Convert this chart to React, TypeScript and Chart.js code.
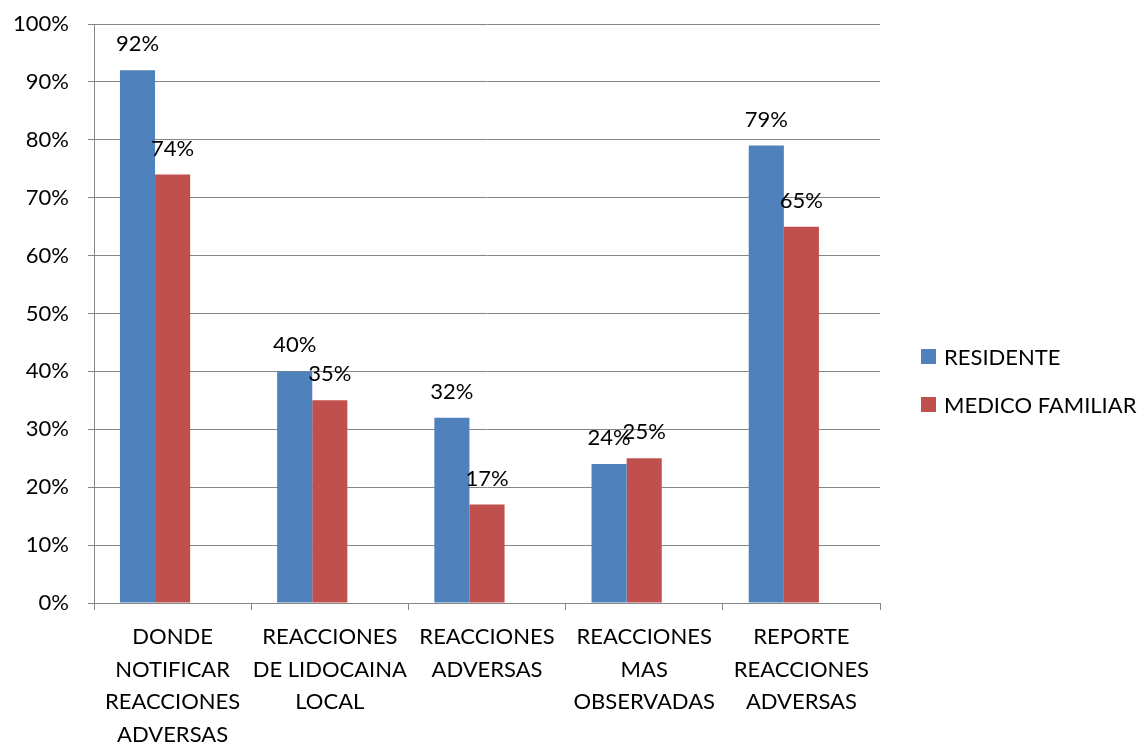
import React, { useEffect, useRef } from "react";
import { Chart, registerables } from "chart.js";

Chart.register(...registerables);

const categories: string[][] = [
  ["DONDE", "NOTIFICAR", "REACCIONES", "ADVERSAS"],
  ["REACCIONES", "DE LIDOCAINA", "LOCAL"],
  ["REACCIONES", "ADVERSAS"],
  ["REACCIONES", "MAS", "OBSERVADAS"],
  ["REPORTE", "REACCIONES", "ADVERSAS"],
];
const residente: number[] = [92, 40, 32, 24, 79];
const medicoFamiliar: number[] = [74, 35, 17, 25, 65];
// empty third series slot (as in the original spreadsheet chart)
const emptySeries: (number | null)[] = [null, null, null, null, null];
const seriesNames: string[] = ["RESIDENTE", "MEDICO FAMILIAR"];
const seriesColors: string[] = ["#4F81BD", "#C0504D"];

const FONT = "Lato, 'Open Sans', sans-serif";
const FS = 22;

const valueLabels = {
  id: "valueLabels",
  afterDatasetsDraw(chart: any) {
    const ctx = chart.ctx;
    ctx.save();
    ctx.font = `${FS}px ${FONT}`;
    ctx.fillStyle = "#000";
    ctx.textAlign = "center";
    ctx.textBaseline = "alphabetic";
    chart.data.datasets.forEach((ds: any, i: number) => {
      if (!ds.label) return;
      const meta = chart.getDatasetMeta(i);
      meta.data.forEach((bar: any, j: number) => {
        if (ds.data[j] == null) return;
        ctx.fillText(`${ds.data[j]}%`, bar.x, bar.y - 19);
      });
    });
    ctx.restore();
  },
};

const customLegend = {
  id: "customLegend",
  afterDraw(chart: any) {
    const ctx = chart.ctx;
    ctx.save();
    ctx.font = `${FS}px ${FONT}`;
    ctx.textBaseline = "middle";
    ctx.textAlign = "left";
    chart.data.datasets
      .filter((ds: any) => ds.label)
      .forEach((ds: any, i: number) => {
        const cy = 356.5 + i * 48;
        ctx.fillStyle = ds.backgroundColor;
        ctx.fillRect(921, cy - 7.5, 15, 15);
        ctx.fillStyle = "#000";
        ctx.fillText(ds.label, 944, cy + 1);
      });
    ctx.restore();
  },
};

export default function App() {
  const ref = useRef<HTMLCanvasElement>(null);
  useEffect(() => {
    if (!ref.current) return;
    const chart = new Chart(ref.current, {
      type: "bar",
      data: {
        labels: categories,
        datasets: [
          { label: seriesNames[0], data: residente, backgroundColor: seriesColors[0] },
          { label: seriesNames[1], data: medicoFamiliar, backgroundColor: seriesColors[1] },
          { label: "", data: emptySeries as any, backgroundColor: "#9BBB59" },
        ],
      },
      options: {
        animation: false,
        responsive: false,
        maintainAspectRatio: false,
        layout: { padding: { left: 0, top: 24, right: 267, bottom: 0 } },
        datasets: { bar: { categoryPercentage: 0.67, barPercentage: 1 } },
        plugins: { legend: { display: false }, tooltip: { enabled: false } },
        scales: {
          x: {
            offset: true,
            grid: {
              offset: true,
              drawOnChartArea: false,
              drawTicks: true,
              tickLength: 7,
              color: "#868686",
            },
            border: { color: "#868686", width: 1 },
            ticks: {
              font: { family: FONT, size: FS, lineHeight: 1.48 },
              color: "#000",
              padding: 11,
              maxRotation: 0,
              autoSkip: false,
            },
            afterFit(s: any) {
              s.height = 139;
              s.paddingLeft = 0;
              s.paddingRight = 0;
            },
          },
          y: {
            min: 0,
            max: 100,
            grid: { color: "#868686", tickLength: 6 },
            border: { color: "#868686", width: 1 },
            ticks: {
              stepSize: 10,
              font: { family: FONT, size: FS },
              color: "#000",
              padding: 19,
              callback: (v: any) => `${v}%`,
            },
            afterFit(s: any) {
              s.width = 94;
              s.paddingTop = 0;
              s.paddingBottom = 0;
            },
          },
        },
      },
      plugins: [valueLabels, customLegend],
    });
    return () => chart.destroy();
  }, []);
  return (
    <div style={{ position: "fixed", left: 0, top: 0, width: 1147, height: 742, background: "#fff" }}>
      <canvas ref={ref} width={1147} height={742} style={{ display: "block" }} />
    </div>
  );
}
